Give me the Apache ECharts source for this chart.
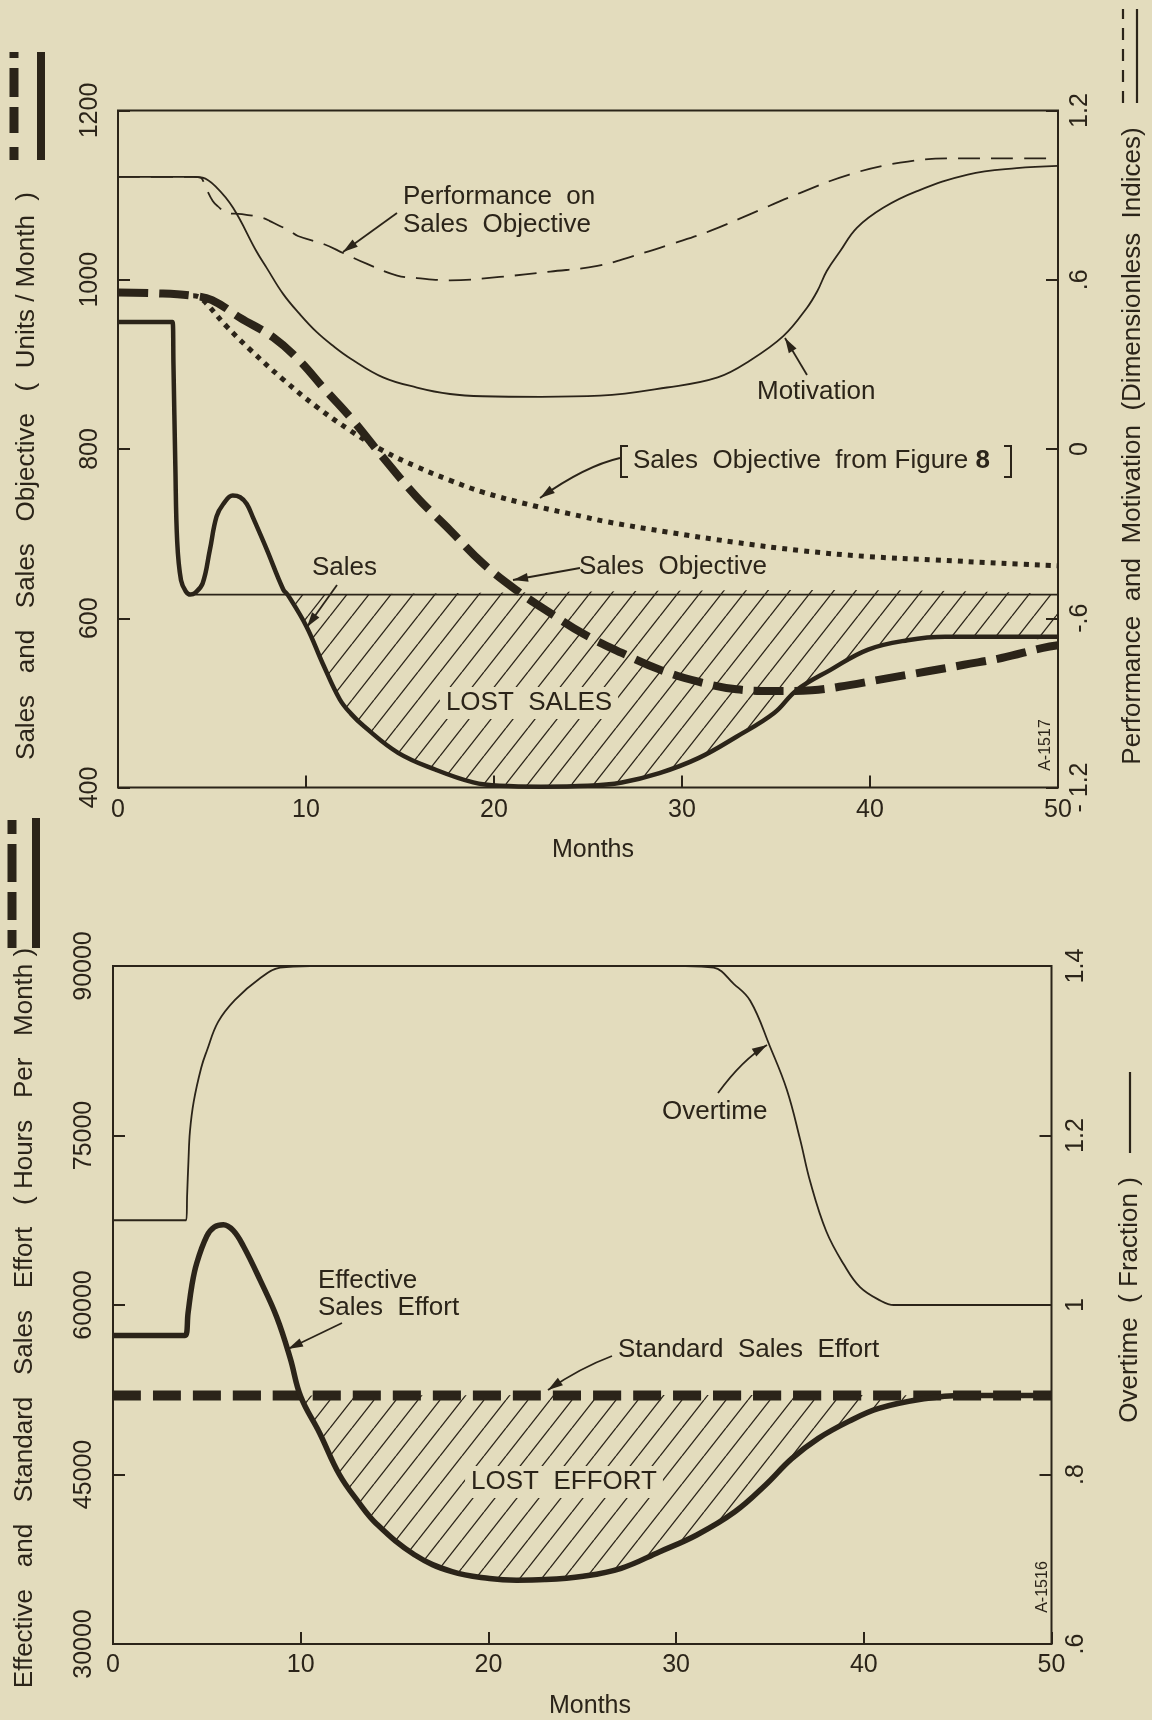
<!DOCTYPE html>
<html>
<head>
<meta charset="utf-8">
<script src="https://cdn.jsdelivr.net/npm/echarts@6/dist/echarts.min.js"></script>
<style>
html,body{margin:0;padding:0;background:#e3dcbd;}
#c{width:1152px;height:1720px;}
</style>
</head>
<body>
<div id="c"></div>
<script>
// ---------------- DATA ----------------
// Top panel: months and values
const monthsSales = [0, 2.6, 2.9, 2.95, 3.05, 3.15, 3.35, 3.6, 3.85, 4.1, 4.5, 4.88, 5.24, 5.6, 6.1, 6.5, 6.85, 7.2, 7.9, 8.79, 9.05, 10.03, 10.9, 11.8, 12.4, 13.1, 14.9, 16.9, 18.9, 20.3, 22.5, 25.0, 26.8, 28.8, 30.9, 32.9, 34.9, 36.1, 37.9, 39.9, 42.0, 44.0, 47, 50];
const sales = [950, 950, 950, 900, 780, 690, 645, 632, 628, 630, 641, 680, 720, 735, 745, 743, 735, 718, 682, 634, 627, 590, 546, 504, 487, 472, 441, 421, 406, 402, 401, 402, 406, 417, 435, 460, 488, 515, 539, 563, 574, 578, 578, 578];

const monthsRef = [3.85, 50];
const salesRef = [628, 628];

const monthsObj = [0, 2, 4, 5, 6.5, 8.25, 9.67, 10.9, 12.34, 14.1, 15.9, 17.66, 19.4, 21.2, 23.0, 24.8, 26.8, 28.85, 30.87, 32.9, 34.9, 36.9, 38.9, 40.9, 43, 45, 47, 49.2, 50];
const salesObjective = [985, 984, 981, 976, 955, 932, 904, 873, 838, 790, 743, 704, 665, 633, 606, 581, 559, 539, 525, 516, 514, 515, 521, 529, 537, 545, 553, 565, 568];

const monthsFig8 = [4.0, 4.36, 5.77, 7.0, 8.79, 10.56, 12.34, 14.1, 15.9, 17.66, 19.4, 22.1, 24.76, 26.0, 29.2, 32.75, 36.3, 39.85, 43.4, 46.95, 50];
const salesObjectiveFig8 = [981, 979, 945, 918, 882, 850, 822, 798, 779, 763, 749, 733, 720, 714, 702, 690, 680, 673, 669, 665, 662];

const monthsMot = [0, 4.0, 4.5, 5.2, 6.12, 7.37, 7.9, 8.79, 9.67, 10.56, 11.45, 12.34, 14.1, 15.9, 17.66, 19.4, 22.5, 25.65, 29.2, 31.9, 33.6, 35.4, 36.65, 37.2, 37.7, 38.4, 39.3, 40.7, 42.5, 45.2, 47.8, 50];
const motivation = [0.965, 0.965, 0.962, 0.93, 0.855, 0.70, 0.643, 0.549, 0.478, 0.415, 0.365, 0.322, 0.254, 0.218, 0.195, 0.187, 0.185, 0.189, 0.218, 0.254, 0.313, 0.401, 0.501, 0.56, 0.631, 0.70, 0.784, 0.855, 0.914, 0.973, 0.996, 1.004];

const monthsPerf = [0, 4.0, 4.4, 4.63, 5.04, 5.3, 5.84, 6.59, 7.7, 8.08, 9.14, 9.57, 11.0, 11.97, 13.25, 14.85, 15.9, 17.66, 20.3, 23.0, 25.5, 27.4, 29.5, 31.5, 33.6, 36.3, 38.9, 41.6, 44.3, 47, 50];
const performance = [0.965, 0.965, 0.962, 0.932, 0.879, 0.861, 0.836, 0.833, 0.819, 0.808, 0.773, 0.755, 0.725, 0.695, 0.656, 0.615, 0.606, 0.598, 0.61, 0.629, 0.649, 0.684, 0.728, 0.773, 0.832, 0.908, 0.973, 1.015, 1.03, 1.03, 1.03];

// Bottom panel
const monthsEff = [0, 3.5, 3.84, 4.0, 4.2, 4.46, 5.0, 5.4, 5.88, 6.4, 6.95, 7.84, 8.73, 9.44, 10.0, 11.0, 12.06, 13.06, 14.06, 16.06, 18.06, 20.06, 21.5, 23.0, 25.05, 27.07, 29.1, 31.1, 33.13, 34.75, 36.16, 37.58, 39.2, 40.8, 43.2, 45.25, 47, 50];
const effectiveEffort = [57300, 57300, 57300, 59300, 61700, 63700, 66100, 66900, 67100, 66600, 65200, 62200, 58900, 55300, 51900, 48700, 45000, 42600, 40600, 37900, 36400, 35800, 35650, 35700, 36000, 36700, 38150, 39650, 41700, 44050, 46400, 48200, 49700, 50850, 51700, 52000, 52000, 52000];

const monthsStd = [0, 50];
const standardEffort = [52000, 52000];

const monthsOt = [0, 3.6, 3.9, 3.95, 4.02, 4.1, 4.3, 4.7, 5.0, 5.6, 6.5, 7.8, 8.9, 10.5, 30.5, 32.0, 33.07, 33.95, 35.0, 35.9, 36.6, 37.15, 38.0, 38.93, 39.8, 40.9, 41.6, 44, 50];
const overtime = [1.1, 1.1, 1.1, 1.13, 1.17, 1.205, 1.24, 1.28, 1.3, 1.334, 1.36, 1.385, 1.398, 1.4, 1.4, 1.398, 1.379, 1.359, 1.305, 1.254, 1.196, 1.145, 1.087, 1.048, 1.021, 1.005, 1.0, 1.0, 1.0];

// Tick values / labels
const monthTicks = [0, 10, 20, 30, 40, 50];
const salesTickValues = [400, 600, 800, 1000, 1200];
const perfTickValues = [-1.2, -0.6, 0, 0.6, 1.2];
const perfTickLabels = ['- 1.2', '-.6', '0', '.6', '1.2'];
const effortTickValues = [30000, 45000, 60000, 75000, 90000];
const otTickValues = [0.6, 0.8, 1.0, 1.2, 1.4];
const otTickLabels = ['.6', '.8', '1', '1.2', '1.4'];

// ---------------- STYLE ----------------
const INK = '#2b2419';
const BG = '#e3dcbd';
const FONT = '"Liberation Sans", Arial, Helvetica, sans-serif';
const SMOOTH = 0.4;

const zip = (xs, ys) => xs.map((x, i) => [x, ys[i]]);
const lookup = (vals, labels) => v => {
  const i = vals.findIndex(t => Math.abs(t - v) < 1e-6);
  return i < 0 ? '' : String(labels[i]);
};

// region below a level, bounded by a curve (computed from the data)
function belowPolygon(xs, ys, level) {
  const pts = [];
  let started = false, done = false;
  for (let i = 1; i < xs.length && !done; i++) {
    const y0 = ys[i - 1], y1 = ys[i];
    if (!started) {
      if (y0 >= level && y1 < level) {
        const t = (y0 - level) / (y0 - y1);
        pts.push([xs[i - 1] + t * (xs[i] - xs[i - 1]), level]);
        pts.push([xs[i], y1]);
        started = true;
      }
    } else {
      if (y1 < level) pts.push([xs[i], y1]);
      else {
        const t = (level - y0) / (y1 - y0);
        pts.push([xs[i - 1] + t * (xs[i] - xs[i - 1]), level]);
        done = true;
      }
    }
  }
  if (!done) pts.push([xs[xs.length - 1], level]);
  return pts;
}

function makeHatch() {
  const w = 22, h = 28;
  const c = document.createElement('canvas');
  c.width = w; c.height = h;
  const g = c.getContext('2d');
  g.strokeStyle = INK; g.lineWidth = 1.3;
  for (const o of [-w, 0, w]) { g.beginPath(); g.moveTo(o, h); g.lineTo(o + w, 0); g.stroke(); }
  return c;
}
const hatchCanvas = makeHatch();

const lostSalesPoly = belowPolygon(monthsSales, sales, salesRef[0]);
const lostEffortPoly = belowPolygon(monthsEff, effectiveEffort, standardEffort[0]);

function lineSeries(xs, ys, xi, yi, ls, z) {
  return {
    type: 'line', xAxisIndex: xi, yAxisIndex: yi, data: zip(xs, ys),
    symbol: 'none', showSymbol: false, smooth: SMOOTH,
    lineStyle: Object.assign({ color: INK, cap: 'butt', join: 'round' }, ls),
    z: z, silent: true, clip: true
  };
}
function hatchSeries(poly, xi, yi) {
  return {
    type: 'custom', xAxisIndex: xi, yAxisIndex: yi, silent: true, z: 1, clip: true,
    data: [poly[0]],
    renderItem: (params, api) => ({
      type: 'polygon',
      shape: { points: poly.map(p => api.coord(p)), smooth: 0.25 },
      style: { fill: { image: hatchCanvas, repeat: 'repeat' }, stroke: null }
    })
  };
}

const tickStyle = { show: true, inside: true, length: 12, lineStyle: { color: INK, width: 2 } };
function xAx(gi, margin) {
  return {
    gridIndex: gi, type: 'value', position: 'bottom',
    min: monthTicks[0], max: monthTicks[monthTicks.length - 1], interval: 10,
    axisLine: { show: false, onZero: false }, axisTick: tickStyle, splitLine: { show: false },
    axisLabel: { margin: margin, fontSize: 25, color: INK, fontFamily: FONT, showMinLabel: true, showMaxLabel: true }
  };
}
function yAx(gi, pos, vals, labels, interval, margin) {
  return {
    gridIndex: gi, type: 'value', position: pos, min: vals[0], max: vals[vals.length - 1], interval: interval,
    axisLine: { show: false, onZero: false }, axisTick: tickStyle, splitLine: { show: false },
    axisLabel: { rotate: 90, margin: margin, fontSize: 25, color: INK, fontFamily: FONT,
      showMinLabel: true, showMaxLabel: true, formatter: lookup(vals, labels) }
  };
}

// ---------------- decorations ----------------
function txt(x, y, s, o) {
  o = o || {};
  const size = o.size || 26;
  const st = {
    text: s, font: size + 'px ' + FONT, fill: INK,
    align: o.align || 'left', verticalAlign: 'middle',
    textAlign: o.align || 'left', textVerticalAlign: 'middle'
  };
  if (o.bg) { st.backgroundColor = o.bg; st.padding = o.pad || [2, 6]; }
  if (o.rich) st.rich = o.rich;
  return { type: 'text', x: x, y: y, rotation: o.rot || 0, z: 60, silent: true, style: st };
}
function arrow(pts) {
  const els = [];
  const tip = pts[pts.length - 1];
  let from;
  if (pts.length === 3) {
    els.push({ type: 'bezierCurve', z: 60, silent: true,
      shape: { x1: pts[0][0], y1: pts[0][1], cpx1: pts[1][0], cpy1: pts[1][1], x2: tip[0], y2: tip[1] },
      style: { stroke: INK, lineWidth: 1.8, fill: 'none' } });
    from = pts[1];
  } else {
    els.push({ type: 'line', z: 60, silent: true,
      shape: { x1: pts[0][0], y1: pts[0][1], x2: tip[0], y2: tip[1] },
      style: { stroke: INK, lineWidth: 1.8 } });
    from = pts[0];
  }
  const dx = tip[0] - from[0], dy = tip[1] - from[1];
  const L = Math.hypot(dx, dy), ux = dx / L, uy = dy / L;
  const len = 15, hw = 4.5;
  const bx = tip[0] - ux * len, by = tip[1] - uy * len;
  els.push({ type: 'polygon', z: 61, silent: true,
    shape: { points: [tip, [bx - uy * hw, by + ux * hw], [bx + uy * hw, by - ux * hw]] },
    style: { fill: INK } });
  return els;
}
function vline(x, y1, y2, w, dash) {
  const st = { stroke: INK, lineWidth: w };
  if (dash) st.lineDash = dash;
  return { type: 'line', z: 60, silent: true, shape: { x1: x, y1: y1, x2: x, y2: y2 }, style: st };
}
function poly(points, w) {
  return { type: 'polyline', z: 60, silent: true, shape: { points: points }, style: { stroke: INK, lineWidth: w, fill: 'none' } };
}

const R = Math.PI / 2;
const graphics = [
  // axis titles and their line keys
  txt(27, 476, 'Sales   and   Sales   Objective   (  Units / Month  )', { rot: R, align: 'center' }),
  vline(14, 160, 52, 9, [13, 14, 26, 10, 29, 10, 6, 60]),
  vline(41, 160, 52, 8),
  txt(1133, 446, 'Performance  and  Motivation  (Dimensionless  Indices)', { rot: R, align: 'center' }),
  vline(1123, 103, 9, 2.2, [12, 9]),
  vline(1137, 103, 9, 2.2),
  txt(593, 850, 'Months', { size: 25, align: 'center' }),

  txt(25, 1318, 'Effective   and   Standard   Sales   Effort   ( Hours   Per   Month )', { rot: R, align: 'center' }),
  vline(12, 948, 818, 9, [18, 10, 28, 10, 38, 10, 14, 60]),
  vline(36, 948, 818, 8),
  txt(1130, 1300, 'Overtime  ( Fraction )', { rot: R, align: 'center' }),
  vline(1130, 1153, 1072, 2.2),
  txt(590, 1706, 'Months', { size: 25, align: 'center' }),

  // top annotations
  txt(403, 197, 'Performance  on'),
  txt(403, 225, 'Sales  Objective'),
  ...arrow([[397, 213], [343, 252]]),
  txt(757, 392, 'Motivation'),
  ...arrow([[807, 375], [785, 338]]),
  poly([[628, 446], [621, 446], [621, 477], [628, 477]], 2),
  txt(633, 461, 'Sales  Objective  from Figure {b|8}', { rich: { b: { font: 'bold 26px ' + FONT, fill: INK } } }),
  poly([[1004, 446], [1011, 446], [1011, 477], [1004, 477]], 2),
  ...arrow([[620, 458], [585, 466], [540, 498]]),
  txt(579, 567, 'Sales  Objective'),
  ...arrow([[580, 568], [513, 580]]),
  txt(312, 568, 'Sales'),
  ...arrow([[337, 585], [307, 627]]),
  txt(529, 703, 'LOST  SALES', { align: 'center', bg: BG, pad: [3, 6] }),
  txt(1046, 745, 'A-1517', { rot: R, align: 'center', size: 16 }),

  // bottom annotations
  txt(662, 1112, 'Overtime'),
  ...arrow([[718, 1093], [743, 1059], [767, 1045]]),
  txt(318, 1281, 'Effective'),
  txt(318, 1308, 'Sales  Effort'),
  ...arrow([[342, 1323], [288, 1349]]),
  txt(618, 1350, 'Standard  Sales  Effort'),
  ...arrow([[612, 1356], [580, 1368], [548, 1390]]),
  txt(564, 1482, 'LOST  EFFORT', { align: 'center', bg: BG, pad: [3, 6] }),
  txt(1043, 1587, 'A-1516', { rot: R, align: 'center', size: 16 })
];

const option = {
  animation: false,
  backgroundColor: BG,
  textStyle: { fontFamily: FONT, color: INK },
  grid: [
    { left: 118, top: 110.5, width: 940, height: 677, show: true, borderColor: INK, borderWidth: 2, backgroundColor: 'transparent', containLabel: false },
    { left: 113, top: 966, width: 938.5, height: 678, show: true, borderColor: INK, borderWidth: 2, backgroundColor: 'transparent', containLabel: false }
  ],
  xAxis: [xAx(0, 10), xAx(1, 9)],
  yAxis: [
    yAx(0, 'left', salesTickValues, salesTickValues, 200, 15),
    yAx(0, 'right', perfTickValues, perfTickLabels, 0.6, 10),
    yAx(1, 'left', effortTickValues, effortTickValues, 15000, 16),
    yAx(1, 'right', otTickValues, otTickLabels, 0.2, 12)
  ],
  series: [
    hatchSeries(lostSalesPoly, 0, 0),
    lineSeries(monthsRef, salesRef, 0, 0, { width: 1.8 }, 2),
    lineSeries(monthsMot, motivation, 0, 1, { width: 1.8 }, 2),
    lineSeries(monthsPerf, performance, 0, 1, { width: 1.8, type: [22, 11] }, 2),
    lineSeries(monthsFig8, salesObjectiveFig8, 0, 0, { width: 5, type: [5, 6] }, 3),
    lineSeries(monthsSales, sales, 0, 0, { width: 4.5 }, 4),
    lineSeries(monthsObj, salesObjective, 0, 0, { width: 8, type: [30, 11] }, 5),

    hatchSeries(lostEffortPoly, 1, 2),
    lineSeries(monthsOt, overtime, 1, 3, { width: 1.8 }, 2),
    lineSeries(monthsStd, standardEffort, 1, 2, { width: 10, type: [28, 12] }, 4),
    lineSeries(monthsEff, effectiveEffort, 1, 2, { width: 5.5 }, 5)
  ],
  graphic: graphics
};

const chart = echarts.init(document.getElementById('c'), null, { renderer: 'canvas', width: 1152, height: 1720 });
chart.setOption(option);
</script>
</body>
</html>
